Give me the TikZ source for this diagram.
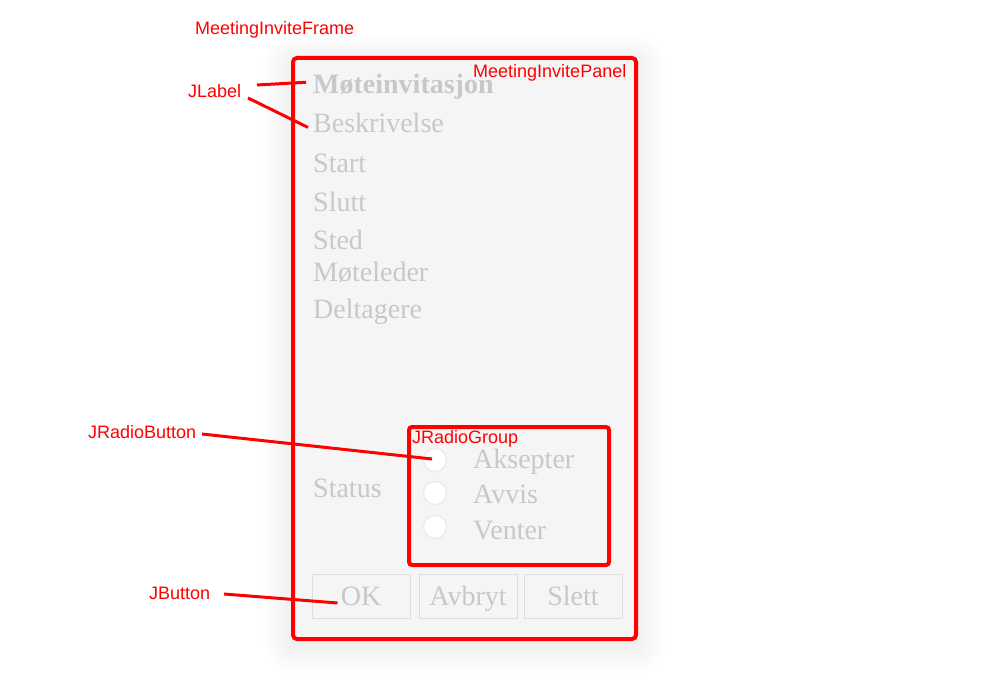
\documentclass[tikz,border=0pt]{standalone}
\usepackage{fontspec}
\setmainfont{Liberation Serif}
\newfontfamily\annotfont{Liberation Sans}
\definecolor{txtgray}{RGB}{200,200,200}
\definecolor{panelbg}{RGB}{245,245,245}
\definecolor{btnborder}{RGB}{222,222,222}
\definecolor{radioborder}{RGB}{232,232,232}
\tikzset{
  annot/.style={text=red, font=\annotfont\fontsize{18}{20}\selectfont, inner sep=0pt, anchor=base west},
  pointer/.style={draw=red, line width=3pt},
  redbox/.style={draw=red, line width=4pt, rounded corners=4pt},
  field/.style={text=txtgray, font=\fontsize{28}{30}\selectfont, inner sep=0pt, anchor=base west},
  radio/.style={circle, fill=white, draw=radioborder, line width=1pt, minimum size=23pt, inner sep=0pt},
  btn/.style={draw=btnborder, fill=panelbg, line width=1pt, minimum width=98pt, minimum height=44pt,
    inner sep=0pt, text height=19pt, text depth=0pt, text=txtgray, font=\fontsize{28}{30}\selectfont}
}
\begin{document}
\begin{tikzpicture}[x=1pt,y=-1pt]
            \useasboundingbox (0,0) rectangle (1000,700);

            % Panel with shadow
            \foreach \i in {2,4,...,30}
              \fill[black, opacity=0.005, rounded corners=4pt+\i pt] (293-\i,64-\i) rectangle (636+\i,645+\i);
            \fill[panelbg] (293,58) rectangle (636,639);
            \draw[redbox] (293,58) rectangle (636,639);

            % Labels
            \node[field, font=\bfseries\fontsize{28}{30}\selectfont] (title) at (313,94) {Møteinvitasjon};
            \node[field] (beskrivelse) at (313,133) {Beskrivelse};
            \node[field] (start) at (313,173) {Start};
            \node[field] (slutt) at (313,212) {Slutt};
            \node[field] (sted) at (313,250) {Sted};
            \node[field] (moteleder) at (313,282) {Møteleder};
            \node[field] (deltagere) at (313,318) {Deltagere};
            \node[field] (status) at (313,497) {Status};

            % Radio group
            \draw[redbox, rounded corners=3pt] (409,427) rectangle (609,565);
            \node[radio] (r1) at (435,460) {};
            \node[radio] (r2) at (435,493) {};
            \node[radio] (r3) at (435,527) {};
            \node[field] (aksepter) at (473,468) {Aksepter};
            \node[field] (avvis) at (473,503) {Avvis};
            \node[field] (venter) at (473,539) {Venter};

            % Buttons
            \node[btn] (ok) at (361,596) {OK};
            \node[btn] (avbryt) at (468,596) {Avbryt};
            \node[btn] (slett) at (573,596) {Slett};

            % Annotations
            \node[annot] (frame) at (195,35) {MeetingInviteFrame};
            \node[annot] (panel) at (473,78) {MeetingInvitePanel};
            \node[annot] (jlabel) at (188,98) {JLabel};
            \node[annot] (jradiogroup) at (412,443) {JRadioGroup};
            \node[annot] (jradiobutton) at (88,438) {JRadioButton};
            \node[annot] (jbutton) at (149,599) {JButton};

            % Pointers
            \coordinate (p1) at (257,85);
            \coordinate (p2) at (248,98);
            \coordinate (p3) at (202,434);
            \coordinate (p4) at (224,594);
            \draw[pointer] (p1) -- ([xshift=-7pt,yshift=5pt]title.west);
            \draw[pointer] (p2) -- ([xshift=-5pt,yshift=-4pt]beskrivelse.west);
            \draw[pointer] (p3) -- ([xshift=-3pt,yshift=1pt]r1.center);
            \draw[pointer] (p4) -- ([xshift=26pt,yshift=-7pt]ok.west);
        \end{tikzpicture}
\end{document}
